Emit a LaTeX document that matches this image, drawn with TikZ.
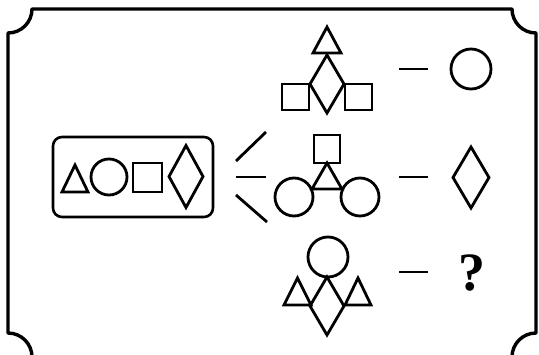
\documentclass[tikz,border=0pt]{standalone}
\usepackage{fontspec}
\setmainfont{Liberation Serif}
\usetikzlibrary{positioning,calc}
\tikzset{
  frm/.style={line width=3.4pt, line join=round},
  fig/.style={line width=2.8pt, line join=miter},
  seqbox/.style={draw, rounded corners=9pt, line width=2.6pt, inner sep=0pt,
                 minimum width=160pt, minimum height=80pt},
  dsh/.style={line width=2.8pt},
  qmark/.style={font=\bfseries\fontsize{54}{54}\selectfont, inner sep=0pt},
}
\begin{document}
\begin{tikzpicture}[x=1pt,y=-1pt]
    \useasboundingbox (0,0) rectangle (539,354);
    % outer frame with notched corners
    \draw[frm] (32,9) -- (512,9) arc[start angle=180, end angle=90, radius=24]
      -- (536,333) arc[start angle=270, end angle=180, radius=24]
      -- (32,357) arc[start angle=360, end angle=270, radius=24]
      -- (8,33) arc[start angle=90, end angle=0, radius=24] -- cycle;

    % given sequence
    \node[seqbox] (seq) at (133,177) {};
    \draw[fig] (62,192) -- (88,192) -- (75,165) -- cycle;
    \draw[fig] (109,177) circle[radius=18];
    \draw[fig] (133,163) rectangle (162,192);
    \draw[fig] (169,176.5) -- (186,145.5) -- (203,176.5) -- (186,207.5) -- cycle;

    \coordinate (up0) at (236,161);   \coordinate (up1) at (266,132);
    \coordinate (mid0) at (236,177);  \coordinate (mid1) at (266,177);
    \coordinate (low0) at (236,195);  \coordinate (low1) at (267,222);
    \draw[dsh] (up0) -- (up1);
    \draw[dsh] (mid0) -- (mid1);
    \draw[dsh] (low0) -- (low1);

    % first row
    \draw[fig] (313,53) -- (341,53) -- (327,27) -- cycle;
    \draw[fig] (310,84) -- (327,55) -- (344,84) -- (327,113) -- cycle;
    \draw[fig] (282,84) rectangle (309,110);
    \draw[fig] (345,84) rectangle (372,110);
    \coordinate (ra0) at (399,69);  \coordinate (ra1) at (428,69);
    \draw[dsh] (ra0) -- (ra1);
    \draw[fig] (471,69) circle[radius=20];

    % second row
    \draw[fig] (314,135) rectangle (340,163);
    \draw[fig] (312,189) -- (342,189) -- (327,163) -- cycle;
    \draw[fig] (294,197) circle[radius=19];
    \draw[fig] (360,197) circle[radius=19];
    \coordinate (rb0) at (399,177);  \coordinate (rb1) at (428,177);
    \draw[dsh] (rb0) -- (rb1);
    \draw[fig] (453,177.5) -- (471,147) -- (489,177.5) -- (471,208) -- cycle;

    % third row
    \draw[fig] (328,257) circle[radius=20];
    \draw[fig] (310,306) -- (327,277) -- (344,306) -- (327,335) -- cycle;
    \draw[fig] (284,305) -- (311,305) -- (297.5,278) -- cycle;
    \draw[fig] (345,305) -- (371,305) -- (358,278) -- cycle;
    \coordinate (rc0) at (399,272);  \coordinate (rc1) at (428,272);
    \draw[dsh] (rc0) -- (rc1);
    \node[qmark] (ans) at (472,273) {?};
\end{tikzpicture}
\end{document}
